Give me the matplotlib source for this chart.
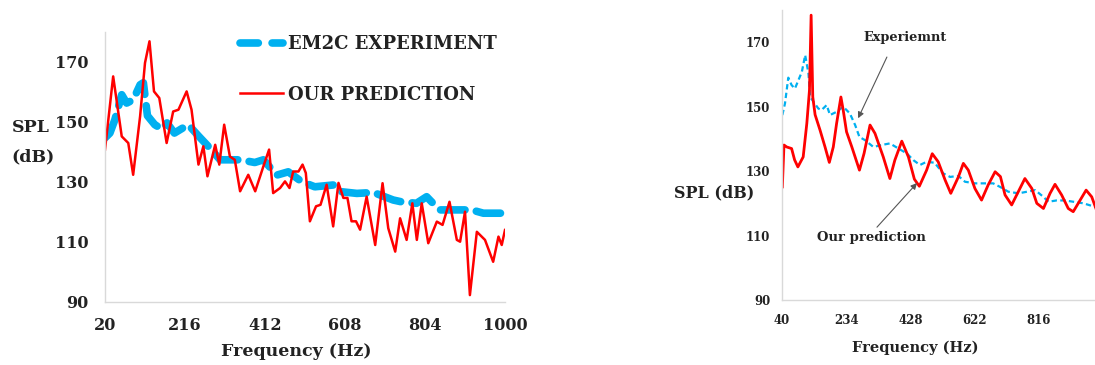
import matplotlib
matplotlib.use("Agg")
import matplotlib.pyplot as plt
from matplotlib.lines import Line2D

BLUE = "#00B0F0"
RED = "#FF0000"
SPINE = "#D9D9D9"
INK = "#222222"
ARROW = "#555555"

W, H = 1095, 365

# left panel: EM2C experiment vs our prediction
em2c_freq = [20, 32, 44, 61, 73, 89, 106, 114, 124, 142, 160, 172, 190, 224, 250, 277,
             302, 334, 351, 387, 408, 441, 469, 502, 534, 579, 596, 637, 678, 726,
             746, 783, 808, 820, 841, 882, 918, 947, 988, 1000]
em2c_spl = [144.6, 146.2, 150.6, 159.0, 156.2, 157.3, 162.3, 163.0, 152.0, 149.0, 147.5,
            149.6, 146.2, 149.0, 145.1, 141.2, 137.3, 137.3, 137.3, 136.4, 137.3, 132.2,
            133.3, 130.0, 128.3, 128.9, 126.7, 126.1, 126.4, 123.9, 123.3, 122.8, 125.0,
            123.3, 120.6, 120.6, 120.6, 119.5, 119.5, 119.5]

pred_freq = [20, 40, 61, 77, 89, 106, 118, 129, 140, 153, 171, 187, 200, 220, 232, 249,
             261, 271, 290, 300, 312, 326, 338, 351, 371, 388, 408, 422, 432, 449, 461,
             472, 481, 494, 504, 512, 522, 537, 548, 563, 579, 592, 604, 614, 624, 635,
             645, 661, 682, 700, 714, 731, 743, 759, 773, 784, 796, 812, 833, 847, 864,
             882, 890, 902, 914, 931, 951, 971, 984, 992, 1000]
pred_spl = [140.7, 165.1, 145.1, 142.9, 132.3, 151.8, 169.6, 176.8, 160.1, 157.9, 142.9,
            153.4, 154.0, 160.1, 154.0, 135.7, 141.8, 131.8, 142.3, 135.7, 149.0, 138.4,
            137.3, 126.8, 132.3, 126.8, 135.1, 140.7, 126.2, 127.9, 130.1, 127.9, 133.4,
            133.4, 135.7, 132.9, 116.8, 121.8, 122.3, 129.0, 115.1, 129.6, 124.6, 124.6,
            116.8, 116.8, 114.0, 125.0, 108.9, 129.5, 114.5, 106.7, 117.8, 110.6, 122.8,
            110.6, 122.8, 109.5, 116.7, 115.6, 123.3, 110.6, 110.0, 120.0, 92.2, 113.3,
            110.6, 103.3, 111.7, 108.9, 113.9]

left_xticks = [20, 216, 412, 608, 804, 1000]
left_yticks = [90, 110, 130, 150, 170]

# right panel: experiment vs prediction (second case)
exp_freq = [41, 49, 59, 69, 79, 100, 110, 120, 125, 150, 160, 175, 185, 205, 225, 245,
            261, 274, 291, 316, 341, 366, 392, 417, 437, 457, 477, 501, 527, 548, 573,
            593, 623, 653, 678, 699, 724, 755, 780, 805, 830, 845, 870, 895, 920, 951, 986]
exp_spl = [147.4, 151.0, 159.0, 156.7, 155.6, 160.8, 166.0, 160.3, 153.0, 149.4, 149.0,
           150.5, 147.4, 148.4, 150.0, 147.9, 144.3, 140.6, 139.6, 137.5, 138.1, 138.6,
           137.0, 135.5, 133.4, 131.9, 132.9, 132.6, 129.3, 128.2, 128.5, 126.7, 126.2,
           126.2, 126.2, 125.1, 123.6, 123.1, 123.6, 124.1, 122.0, 120.5, 120.9, 120.9,
           120.5, 120.0, 118.9]

model_freq = [41, 46, 54, 69, 78, 88, 104, 115, 123, 128, 133, 140, 155, 170, 183, 195,
              205, 218, 225, 235, 251, 274, 288, 306, 321, 346, 366, 381, 402, 422, 440,
              455, 477, 494, 512, 533, 550, 573, 588, 603, 623, 643, 663, 684, 700, 714,
              734, 754, 774, 795, 810, 830, 850, 865, 885, 905, 920, 941, 959, 976, 990]
model_spl = [125.1, 138.1, 137.5, 137.0, 133.5, 131.3, 134.4, 144.8, 155.1, 178.4, 153.0,
             147.5, 142.7, 137.5, 132.7, 137.5, 144.8, 153.0, 148.9, 142.2, 137.5, 130.3,
             135.5, 144.3, 141.7, 134.4, 127.7, 133.4, 139.3, 134.4, 127.5, 125.3, 130.3,
             135.4, 132.9, 127.2, 123.1, 128.2, 132.4, 130.3, 124.6, 121.0, 125.7, 129.8,
             128.3, 122.6, 119.5, 123.6, 127.7, 124.6, 120.0, 118.4, 123.1, 125.9, 122.6,
             118.4, 117.4, 121.0, 124.1, 122.0, 118.0]

right_xticks = [40, 234, 428, 622, 816]
right_yticks = [90, 110, 130, 150, 170]

# arrow tails/tips for the callouts, in data units
exp_arrow_tail = (357, 165.4)
exp_arrow_tip = (270, 146.4)
model_arrow_tail = (327, 112.6)
model_arrow_tip = (448, 126.3)

# thick excel-like dash for the EM2C curve
EM2C_DASH = (0, (3.2, 1.5))


def fx(px: float) -> float:
    return px / W


def fy(py: float) -> float:
    return 1 - py / H


def style_axes(ax, tick_size: float, xpad: float, ypad: float) -> None:
    for side in ["top", "right"]:
        ax.spines[side].set_visible(False)
    for side in ["left", "bottom"]:
        ax.spines[side].set_color(SPINE)
        ax.spines[side].set_linewidth(1.0)
    ax.tick_params(axis="both", length=0, labelsize=tick_size, labelcolor=INK)
    ax.tick_params(axis="x", pad=xpad)
    ax.tick_params(axis="y", pad=ypad)
    for lbl in ax.get_xticklabels() + ax.get_yticklabels():
        lbl.set_fontweight("bold")


def main() -> None:
    plt.rcParams["font.family"] = ["DejaVu Serif"]
    plt.rcParams["font.weight"] = "bold"

    fig = plt.figure(figsize=(W / 100, H / 100), dpi=100)
    fig.set_facecolor("white")

    # ---- left panel
    left = fig.add_axes([fx(105), fy(301.7), 400 / W, 270 / H])
    left.plot(em2c_freq, em2c_spl, color=BLUE, lw=5.5, linestyle=EM2C_DASH,
              dash_capstyle="round", solid_capstyle="round", label="EM2C EXPERIMENT")
    left.plot(pred_freq, pred_spl, color=RED, lw=1.8, label="OUR PREDICTION")
    left.set_xlim(20, 1000)
    left.set_ylim(90, 180)
    left.set_xticks(left_xticks)
    left.set_yticks(left_yticks)
    style_axes(left, 11.5, 11, 12)

    handles = [
        Line2D([], [], color=BLUE, lw=5.5, linestyle=(0, (2.4, 1.8)), dash_capstyle="round"),
        Line2D([], [], color=RED, lw=1.8),
    ]
    leg = left.legend(handles, ["EM2C EXPERIMENT", "OUR PREDICTION"],
                      loc="upper left", bbox_to_anchor=(fx(240), fy(35)),
                      bbox_transform=fig.transFigure, frameon=False,
                      borderpad=0, borderaxespad=0, handlelength=2.4,
                      handletextpad=0.25, labelspacing=1.8,
                      prop={"family": "DejaVu Serif", "weight": "bold", "size": 13})
    for t in leg.get_texts():
        t.set_color(INK)

    fig.text(fx(11.7), fy(128), "SPL", ha="left", va="center", fontsize=12.5,
             fontweight="bold", color=INK)
    fig.text(fx(11.7), fy(157), "(dB)", ha="left", va="center", fontsize=12.5,
             fontweight="bold", color=INK)
    fig.text(fx(296), fy(352), "Frequency (Hz)", ha="center", va="center", fontsize=12.5,
             fontweight="bold", color=INK)

    # ---- right panel (runs past the right edge of the figure)
    right = fig.add_axes([fx(782), fy(300), 321 / W, 290 / H])
    right.plot(exp_freq, exp_spl, color=BLUE, lw=1.6, linestyle=(0, (2.4, 1.5)))
    right.plot(model_freq, model_spl, color=RED, lw=2.0)
    right.set_xlim(40, 1010)
    right.set_ylim(90, 180)
    right.set_xticks(right_xticks)
    right.set_yticks(right_yticks)
    style_axes(right, 8.5, 10, 8.5)

    arrow = dict(arrowstyle="-|>", color=ARROW, lw=0.8, mutation_scale=9,
                 shrinkA=0, shrinkB=0)
    right.annotate("", xy=exp_arrow_tip, xytext=exp_arrow_tail, arrowprops=arrow)
    right.annotate("", xy=model_arrow_tip, xytext=model_arrow_tail, arrowprops=arrow)

    fig.text(fx(905), fy(38), "Experiemnt", ha="center", va="center", fontsize=9.3,
             fontweight="bold", color=INK)
    fig.text(fx(871), fy(237), "Our prediction", ha="center", va="center", fontsize=9.5,
             fontweight="bold", color=INK)
    fig.text(fx(714), fy(193), "SPL (dB)", ha="center", va="center", fontsize=11.5,
             fontweight="bold", color=INK)
    fig.text(fx(915), fy(348), "Frequency (Hz)", ha="center", va="center", fontsize=10.5,
             fontweight="bold", color=INK)

    fig.savefig("out.png", dpi=100)


if __name__ == "__main__":
    main()
